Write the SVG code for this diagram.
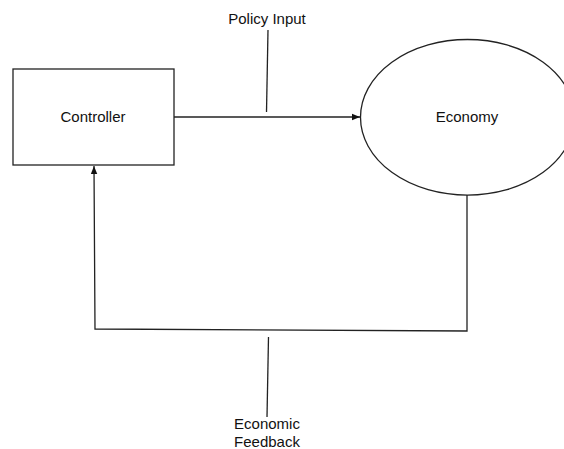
<svg xmlns="http://www.w3.org/2000/svg" width="564" height="449" viewBox="0 0 564 449">
  <style>
    .shape { fill: #ffffff; stroke: #222222; stroke-width: 1.3; }
    .wire { fill: none; stroke: #222222; stroke-width: 1.3; }
    .label { font-family: "Liberation Sans", Arial, sans-serif; font-size: 15px; fill: #111111; text-anchor: middle; }
  </style>
  <defs>
    <marker id="arrow" viewBox="0 0 10 10" refX="10" refY="5" markerWidth="8" markerHeight="8" markerUnits="userSpaceOnUse" orient="auto">
      <path d="M0,1 L10,5 L0,9 Z" fill="#111111"/>
    </marker>
  </defs>
  <rect width="564" height="449" fill="#ffffff"/>

  <g id="connectors">
    <!-- policy input: controller to economy -->
    <line class="wire" x1="174" y1="117" x2="360" y2="117" marker-end="url(#arrow)"/>
    <!-- feedback loop: economy back to controller -->
    <polyline class="wire" points="467,195 467,331 95,329 94,166" marker-end="url(#arrow)"/>
    <!-- label leader lines -->
    <line class="wire" x1="268" y1="30" x2="266.5" y2="112"/>
    <line class="wire" x1="268.5" y1="337" x2="267" y2="417"/>
  </g>

  <g id="controller">
    <rect class="shape" x="13" y="69" width="161" height="96"/>
    <text class="label" x="93" y="122">Controller</text>
  </g>

  <g id="economy">
    <ellipse class="shape" cx="467.5" cy="117.3" rx="107" ry="77.8"/>
    <text class="label" x="467" y="122">Economy</text>
  </g>

  <g id="policy-input-label">
    <text class="label" x="267" y="24">Policy Input</text>
  </g>

  <g id="economic-feedback-label">
    <text class="label" x="267" y="429">Economic</text>
    <text class="label" x="267" y="446.5">Feedback</text>
  </g>
</svg>
